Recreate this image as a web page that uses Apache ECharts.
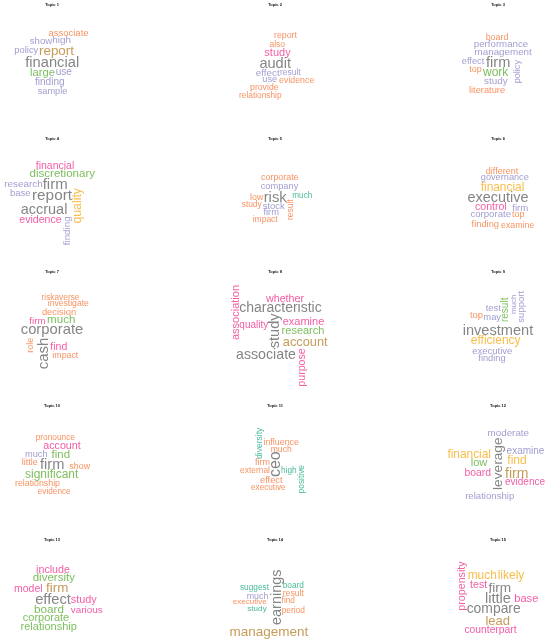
<!DOCTYPE html>
<html>
<head>
<meta charset="utf-8">
<title>Topic word clouds</title>
<script src="https://cdn.jsdelivr.net/npm/echarts@6/dist/echarts.min.js"></script>
<style>
  html, body { margin: 0; padding: 0; background: #fff; }
  #main { width: 550px; height: 644px; }
</style>
</head>
<body>
<div id="main"></div>
<script>
// one cloud per topic
var topicTitles = ['Topic 1','Topic 2','Topic 3','Topic 4','Topic 5','Topic 6','Topic 7','Topic 8',
  'Topic 9','Topic 10','Topic 11','Topic 12','Topic 13','Topic 14','Topic 15'];

var words = [
  ['associate','show','high','policy','report','financial','large','use','finding','sample'],
  ['report','also','study','audit','effect','result','use','evidence','provide','relationship'],
  ['board','performance','management','effect','firm','policy','top','work','study','literature'],
  ['financial','discretionary','research','firm','base','report','quality','accrual','evidence','finding'],
  ['corporate','company','low','risk','much','study','stock','result','firm','impact'],
  ['different','governance','financial','executive','control','firm','corporate','top','finding','examine'],
  ['riskaverse','investigate','decision','firm','much','corporate','role','cash','find','impact'],
  ['association','whether','characteristic','quality','study','examine','research','account','associate','purpose'],
  ['test','result','much','support','top','may','investment','efficiency','executive','finding'],
  ['pronounce','account','much','find','little','firm','show','significant','relationship','evidence'],
  ['diversity','influence','much','firm','ceo','external','high','positive','effect','executive'],
  ['moderate','leverage','examine','financial','find','low','board','firm','evidence','relationship'],
  ['include','diversity','model','firm','effect','study','board','various','corporate','relationship'],
  ['earnings','suggest','board','result','much','executive','find','study','period','management'],
  ['propensity','much','likely','test','firm','little','base','compare','lead','counterpart']
];

// word weight (drawn as font size)
var freq = [
  [9.5,9.6,9.9,9.4,13.4,14.7,11.2,10.1,10.1,9.2],
  [8.8,8.5,11,14.6,9.9,8.5,9.3,8.8,8.7,8.3],
  [8.9,9.7,9.8,9.3,14.6,9.1,8.9,12,9.9,9.3],
  [10.5,11.6,9.9,15,9.5,15.3,12.3,14.5,10.6,9.8],
  [8.9,9.3,8.9,14.8,8.2,8.4,9.4,8.5,9.4,8.5],
  [9,9.2,11.9,14.4,10.5,9.6,9.6,8.9,9.3,8.8],
  [8.3,8.6,9.3,9.8,11.6,14.8,9,15,10.5,8.8],
  [11,10.7,14,10,14.6,11,11,12.8,14.2,10.6],
  [9.5,10,8,9.5,9.4,9.4,14.6,12,9.5,9.3],
  [8.3,10.7,9.3,11.4,9,14.6,8.9,12,8.8,8.2],
  [8.5,8.9,8.6,9,16,8.4,8.3,8.4,9.3,8.2],
  [9.8,13.7,10,11.9,12,11.1,10.4,14,10,9.6],
  [10.7,11.5,10.5,13.4,14.7,10.9,11.7,9.9,11,11],
  [14.5,8.3,8.3,8.7,8.9,8,8.3,8.1,8.4,13.5],
  [10.7,11.9,12,10.7,13.6,14.6,11.1,13.9,13,10.3]
];

// word centre in the cloud's own frame (x from middle, y down from title)
var cloudX = [
  [16.5,-11,9.7,-25.7,4.5,0.2,-9.5,11.8,-2.2,0.5],
  [10.5,2.2,2.5,0.2,-7.2,15.3,-5.2,21.7,-10.7,-14.7],
  [-1,3,5.2,-25,0.2,19.5,-22.5,-2.3,-2.2,-11],
  [3,10.3,-28.5,3.2,-31.7,0,26,-8,-11.5,15],
  [4.8,4.5,-18.3,0.2,27.3,-23.3,-1.3,16,-3.8,-9.8],
  [4,6.8,4.5,0,-7.2,22.3,-7.3,20.2,-12.7,19.7],
  [8.5,16.3,7,-14.5,9.2,0,-21.5,-7.8,6.8,13.3],
  [-39.2,10,5.5,-21.2,0,28.5,28,30.2,-9,27.2],
  [-4.7,7.3,15.8,23.3,-21.5,-5.8,0,-2.3,-5.7,-6],
  [3.3,10,-15.7,8.8,-22.3,0.2,27.7,-0.3,-14.5,2.2],
  [-15.7,6.2,6.2,-12.5,1,-20,13.8,26.3,-3.7,-6.7],
  [10.3,0.3,27.5,-28.8,19,-19,-20.3,18.7,27,-8.3],
  [1,1.8,-23.7,5.2,1,31.7,-3,34.7,-6,-3.3],
  [1.7,-20.5,18.3,18.3,-17.5,-25.3,13.3,-18,18.3,-6.2],
  [-36.3,-15.8,13,-19.3,1.7,0,28.3,-4.3,-0.3,-7.5]
];
var cloudY = [
  [27.3,35.7,34.7,44.7,45,57.3,66.7,66.7,76,85],
  [30,38.7,46.7,58,67,67,73.3,75,82,89.3],
  [31.7,38,46.7,55.7,57.3,65.7,64,67,75,84],
  [25.7,33.3,44.7,45.3,53.3,56,65.8,70,80.3,90.8],
  [38,46.3,57.3,57.7,55.7,65,66,69.7,72.7,79.7],
  [31.3,37.7,48,58,67.3,68,74.7,74.7,84,86],
  [24.3,30.3,39,48,47,57,72.2,80.5,74,82.7],
  [39.5,26.3,35.3,52,57.8,48.7,58,69.3,82,94.5],
  [35,36.8,31.3,33.8,42,44,58,68,78,85],
  [30.3,39.3,47.7,47.7,55.7,58,59.7,68,77,85],
  [36.3,36,42.7,56,57.2,63.7,63.7,72.2,73.7,80.7],
  [26.7,56.7,44.3,47.7,54,56.3,66,66.7,75.7,89],
  [28.7,37,48,47.7,59,59,68.3,69,76.7,86.3],
  [56.2,46.7,45,52.7,55.3,60.7,60,68,70,91],
  [45,34.3,34.3,44.3,47,57.7,57.7,67.7,80,88.7]
];
// 1 = word set upright (reads bottom to top)
var vertical = [
  [0,0,0,0,0,0,0,0,0,0],
  [0,0,0,0,0,0,0,0,0,0],
  [0,0,0,0,0,1,0,0,0,0],
  [0,0,0,0,0,0,1,0,0,1],
  [0,0,0,0,0,0,0,1,0,0],
  [0,0,0,0,0,0,0,0,0,0],
  [0,0,0,0,0,0,1,1,0,0],
  [1,0,0,0,1,0,0,0,0,1],
  [0,1,1,1,0,0,0,0,0,0],
  [0,0,0,0,0,0,0,0,0,0],
  [1,0,0,0,1,0,0,1,0,0],
  [0,1,0,0,0,0,0,0,0,0],
  [0,0,0,0,0,0,0,0,0,0],
  [1,0,0,0,0,0,0,0,0,0],
  [1,0,0,0,0,0,0,0,0,0]
];
// colour group of each word
var groups = [
  ['o','l','l','l','b','g','n','l','l','l'],
  ['o','o','p','g','l','l','l','o','o','o'],
  ['o','l','l','l','g','l','o','n','l','o'],
  ['p','n','l','g','l','g','y','g','p','l'],
  ['o','l','o','g','t','o','l','o','l','o'],
  ['o','l','y','g','p','l','l','o','o','o'],
  ['o','o','o','p','n','g','o','g','p','o'],
  ['p','p','g','p','g','p','n','b','g','p'],
  ['l','n','l','l','o','l','g','y','l','l'],
  ['o','p','l','n','o','g','o','n','o','o'],
  ['t','o','o','o','g','o','t','t','o','o'],
  ['l','g','l','y','y','n','p','b','p','l'],
  ['p','n','p','b','g','p','n','p','n','n'],
  ['g','t','t','o','l','o','o','t','o','b'],
  ['p','y','y','p','g','g','p','g','b','p']
];

var palette = {
  g: '#666666', o: '#F5773A', l: '#8A86C4', p: '#F0338F',
  n: '#5DAE35', y: '#F5AE1E', b: '#B8822E', t: '#1DAA82'
};

var colCenter = [52, 275, 498];
var rowTop = [6, 140, 273, 407, 541];
var halfW = 50;

var myChart = echarts.init(document.getElementById('main'), null, {renderer: 'canvas'});

var titles = [], grids = [], xAxes = [], yAxes = [], series = [];
for (var i = 0; i < topicTitles.length; i++) {
    var cx = colCenter[i % 3];
    var ty = rowTop[Math.floor(i / 3)];
    titles.push({
        text: topicTitles[i],
        left: cx,
        top: ty - 3,
        textAlign: 'center',
        padding: 0,
        textStyle: { fontSize: 4, fontWeight: 'bold', color: '#111', fontFamily: 'Liberation Sans' }
    });
    // the grid frame is centred on the title so cloud x is measured from the middle
    grids.push({ left: cx - halfW, top: ty, width: 2 * halfW, height: 100 });
    xAxes.push({ type: 'value', gridIndex: i, min: -halfW, max: halfW, show: false });
    yAxes.push({ type: 'value', gridIndex: i, min: 0, max: 100, inverse: true, show: false });
    var data = [];
    for (var j = 0; j < words[i].length; j++) {
        data.push({
            name: words[i][j],
            value: [cloudX[i][j], cloudY[i][j]],
            label: {
                fontSize: freq[i][j],
                color: palette[groups[i][j]],
                rotate: vertical[i][j] ? 90 : 0
            }
        });
    }
    series.push({
        type: 'scatter',
        xAxisIndex: i,
        yAxisIndex: i,
        symbolSize: 0,
        clip: false,
        silent: true,
        label: {
            show: true,
            position: 'inside',
            align: 'center',
            verticalAlign: 'middle',
            fontFamily: 'Liberation Sans',
            formatter: '{b}'
        },
        data: data
    });
}

var option = {
    backgroundColor: '#ffffff',
    animation: false,
    title: titles,
    grid: grids,
    xAxis: xAxes,
    yAxis: yAxes,
    series: series
};
myChart.setOption(option);
</script>
</body>
</html>
